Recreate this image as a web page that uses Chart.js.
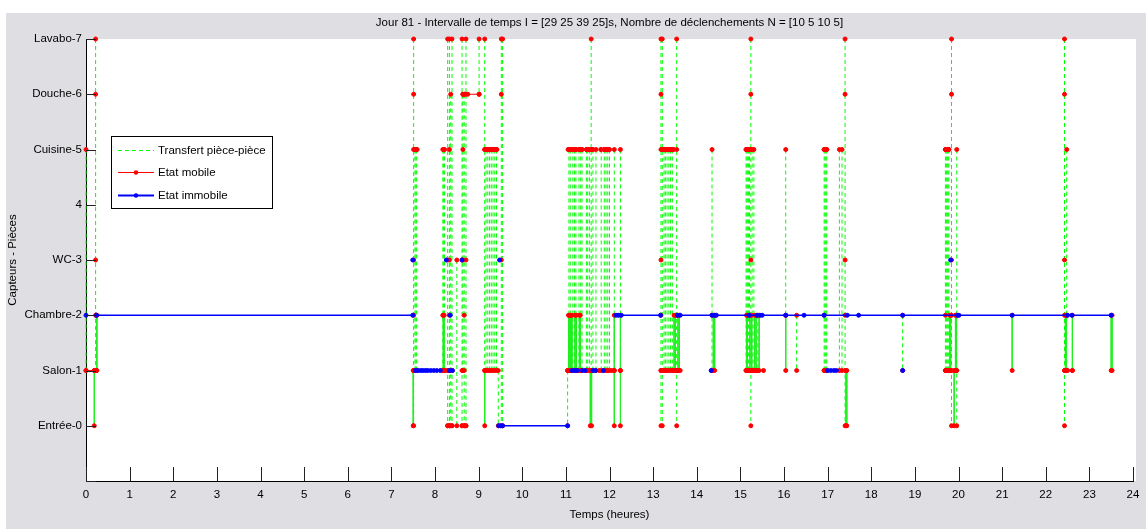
<!DOCTYPE html>
<html><head><meta charset="utf-8">
<script src="https://cdn.jsdelivr.net/npm/chart.js@4.4.1/dist/chart.umd.min.js"></script>
<style>html,body{margin:0;padding:0;background:#fff;}canvas{display:block;}</style>
</head><body>
<canvas id="c" width="1146" height="529"></canvas>
<script>
// ---------- texts ----------
const titleText = 'Jour 81 - Intervalle de temps I = [29 25 39 25]s, Nombre de déclenchements N = [10 5 10 5]';
const xTitle = 'Temps (heures)';
const yTitle = 'Capteurs - Pièces';
const seriesNames = ['Transfert pièce-pièce', 'Etat mobile', 'Etat immobile'];
// ---------- tick labels ----------
const roomLabels = ['Entrée-0','Salon-1','Chambre-2','WC-3','4','Cuisine-5','Douche-6','Lavabo-7'];
const yTickValues = [-1,0,1,2,3,4,5,6,7];
const hourTicks = [0,1,2,3,4,5,6,7,8,9,10,11,12,13,14,15,16,17,18,19,20,21,22,23,24];

// ---------- room-to-room transfers (dashed): time in hours, rooms visited on the vertical ----------
const dashT = [0.00,0.22,7.51,7.54,7.56,7.58,8.18,8.20,8.22,8.29,8.33,8.36,8.39,8.50,8.62,8.64,8.67,8.71,9.01,
  9.14,9.17,9.21,9.25,9.29,9.33,9.37,9.41,9.45,9.52,9.55,
  11.04,11.07,11.10,11.16,11.20,11.23,11.30,11.34,11.37,11.47,11.50,11.54,11.58,11.62,11.69,11.81,11.88,11.92,11.96,12.00,12.11,12.25,
  13.18,13.21,13.25,13.28,13.32,13.36,13.40,13.44,13.54,
  14.35,15.13,15.15,15.17,15.19,15.21,15.24,15.27,15.31,15.40,16.04,16.29,
  16.92,16.94,16.96,16.98,17.27,17.33,17.40,18.72,
  19.70,19.72,19.74,19.76,19.78,19.84,19.96,22.43,22.48];
const dashStops = [[1,5],[1,2,3,6,7],[0,1,2,3,5,6,7],[1,5],[1,5],[1,5],[1,2,5],[1,5],[1,5],[0,1,3,7],[0,1,2,3,5,7],[0,6],[0,1,7],[0,3],[0,1,3,7],[1,3,5,6],[0,1,2,6],[0,3,7],[6,7],
  [1,5,7],[1,5],[1,5],[1,5],[1,5],[1,5],[1,5],[1,5],[0,1],[0,3,6,7],[0,7],
  [0,1],[1,5],[1,5],[1,5],[1,5],[1,5],[1,5],[1,5],[1,5],[1,5],[1,5],[1,5],[1,5,7],[1,5],[1,5],[1,5],[1,5],[1,5],[1,5],[1,5],[1,5],[1,5],
  [0,1,2,3,5,6,7],[0,1,5,7],[1,5],[1,5],[1,5],[1,5],[1,5],[1,5],[0,1,2,5,7],
  [1,2,5],[1,5],[1,5],[1,5],[1,5],[1,5],[0,1,2,3,5,6,7],[1,5],[1,5],[1,2],[2,5],[1,2],
  [1,2,5],[1,5],[1,5],[1,5],[1,5],[1,5],[0,1,2,3,6,7],[1,2],
  [1,2,5],[1,5],[1,5],[1,5],[1,5],[0,1,2,3,6,7],[0,1,2,5],[0,1,2,3,6,7],[1,2,5]];

// ---------- short transfers drawn as plain lines ----------
const solidT = [0.19,0.24,0.25,7.50,8.19,8.21,9.14,
  11.06,11.08,11.10,11.12,11.14,11.21,11.24,11.31,11.33,11.56,11.59,12.11,12.25,
  13.48,13.51,13.57,13.60,14.38,14.41,15.14,15.16,15.22,15.26,15.33,15.36,15.43,16.04,17.42,17.44,
  19.80,19.82,19.90,19.93,19.95,21.23,22.45,22.47,22.61,23.50,23.52];
const solidStops = [[0,1],[1,2],[1,2],[0,1],[1,2],[1,2],[0,1],
  [1,2],[1,2],[1,2],[1,2],[1,2],[1,2],[1,2],[1,2],[1,2],[0,1],[0,1],[0,1,2],[0,1,2],
  [1,2],[1,2],[1,2],[1,2],[1,2],[1,2],[1,2],[1,2],[1,2],[1,2],[1,2],[1,2],[1,2],[1,2],[0,1],[0,1],
  [1,2],[1,2],[0,1],[1,2],[1,2],[1,2],[1,2],[1,2],[1,2],[1,2],[1,2]];

// ---------- mobile state runs (room, times) ----------
const mobileRoom = [1,5,1,0,6,0,5,5,5,5,1,5,1,5,1,5,1,5,1,1];
const mobileTimes = [[0.00,0.19,0.24],[7.53,7.56,7.59],[8.17,8.22,8.29,8.33,8.39],[8.29,8.33,8.39],[8.64,8.67,8.71,8.75,9.01],[8.62,8.67,8.71],
  [9.14,9.18,9.22,9.26,9.30,9.34,9.38,9.42],[11.05,11.10,11.16,11.23,11.30,11.37],[11.47,11.52,11.58,11.62],[11.80,11.88,11.92,11.97],
  [11.04,11.12,11.30,11.48,11.56,11.76,11.95,12.05],[13.20,13.26,13.32,13.38,13.44,13.47],[13.18,13.30,13.45,13.55,13.62],
  [15.13,15.17,15.22],[15.13,15.25,15.40,15.53],[16.92,16.95,16.98],[16.92,16.98],[19.70,19.74,19.78],[19.70,19.80,19.96],[22.43,22.50,22.61]];

// ---------- immobile state runs (room, times) ----------
const immobileRoom = [2,2,3,1,3,3,2,1,3,0,1,1,1,1,2,2,1,1,1,3];
const immobileTimes = [[0.00],[0.24,7.49],[7.49],[7.55,7.61,7.67,7.72,7.78,7.83,7.90,7.97,8.04,8.12],[8.26],[8.62],[8.35],[8.33,8.40],[9.48],
  [9.46,9.50,9.55,11.04],[11.14,11.20,11.26],[11.38,11.44],[11.62,11.68],[11.86],[12.15,12.20,12.27,13.17],
  [13.56,13.62,14.35,14.42,14.45,15.20,15.38,15.45,15.50,16.04,16.46,16.92,17.45,17.71,18.72,19.98,20.01,21.23,22.50,22.60,23.50],
  [14.33],[17.00,17.07,17.14,17.20],[18.72],[19.82]];

// ---------- fonts ----------
function fontAvailable(name){
  const c = document.createElement('canvas').getContext('2d');
  const s = 'Chambre-2 Capteurs Pièces 0123456789';
  let diff = false;
  ['monospace','serif'].forEach(fb => {
    c.font = '32px ' + fb; const a = c.measureText(s).width;
    c.font = '32px "' + name + '", ' + fb; const b = c.measureText(s).width;
    if (Math.abs(a - b) > 0.5) diff = true;
  });
  return diff;
}
const NARROW = fontAvailable('Liberation Sans Narrow');
const FAMILY = NARROW ? '"Liberation Sans Narrow", "Liberation Sans", Arial, sans-serif' : '"Liberation Sans", Arial, sans-serif';
const FS = NARROW ? 14 : 11.5;
const LH = FS * 1.2;
Chart.defaults.font.family = FAMILY;
Chart.defaults.font.size = FS;
Chart.defaults.color = '#000';

// ---------- build datasets ----------
function verticals(ts, stops){
  const d = [];
  ts.forEach((t, i) => {
    const s = stops[i];
    d.push({x: t, y: Math.max(...s)}, {x: t, y: Math.min(...s)}, {x: t, y: null});
  });
  return d;
}
function runs(rooms, times){
  const d = [];
  rooms.forEach((r, i) => {
    times[i].forEach(t => d.push({x: t, y: r}));
    d.push({x: times[i][times[i].length - 1], y: null});
  });
  return d;
}
function stopPoints(ts, stops){
  const d = [];
  ts.forEach((t, i) => stops[i].forEach(r => d.push({x: t, y: r}, {x: t, y: null})));
  return d;
}
const dashData = verticals(dashT, dashStops);
const solidData = verticals(solidT, solidStops);
const redData = runs(mobileRoom, mobileTimes).concat(stopPoints(dashT, dashStops), stopPoints(solidT, solidStops));
const blueData = runs(immobileRoom, immobileTimes);

// ---------- plugins ----------
const bgPlugin = {
  id: 'bg',
  beforeDraw(chart){
    const {ctx, chartArea: a, width, height} = chart;
    ctx.save();
    ctx.fillStyle = '#ffffff'; ctx.fillRect(0, 0, width, height);
    ctx.fillStyle = '#dfdfe3'; ctx.fillRect(6, 13, width - 6, height - 13);
    ctx.fillStyle = '#ffffff'; ctx.fillRect(a.left, a.top, a.right - a.left + 3, a.bottom - a.top);
    ctx.restore();
  }
};
const tickPlugin = {
  id: 'inTicks',
  afterDatasetsDraw(chart){
    const {ctx, chartArea: a, scales: {x, y}} = chart;
    ctx.save();
    ctx.strokeStyle = '#222'; ctx.lineWidth = 1; ctx.beginPath();
    x.ticks.forEach(t => { const p = Math.round(x.getPixelForValue(t.value)) + 0.5; ctx.moveTo(p, a.bottom); ctx.lineTo(p, a.bottom - 14); });
    y.ticks.forEach(t => { const p = Math.round(y.getPixelForValue(t.value)) + 0.5; ctx.moveTo(a.left, p); ctx.lineTo(a.left + 10, p); });
    ctx.stroke();
    ctx.restore();
  }
};
const legendPlugin = {
  id: 'boxLegend',
  afterDraw(chart){
    const {ctx, chartArea: a} = chart;
    const bx = a.left + 25, by = a.top + 97, bw = 161, bh = 72;
    ctx.save();
    ctx.fillStyle = '#fff'; ctx.fillRect(bx, by, bw, bh);
    ctx.strokeStyle = '#000'; ctx.lineWidth = 1; ctx.strokeRect(bx + 0.5, by + 0.5, bw, bh);
    const rows = [14, 36, 59];
    const sets = [chart.data.datasets[0], chart.data.datasets[2], chart.data.datasets[3]];
    ctx.font = FS + 'px ' + FAMILY;
    ctx.textBaseline = 'middle'; ctx.textAlign = 'left'; ctx.fillStyle = '#000';
    sets.forEach((ds, i) => {
      const yy = by + rows[i] + 0.5;
      ctx.save();
      ctx.strokeStyle = ds.borderColor;
      ctx.lineWidth = i === 2 ? 2 : 1;
      if (ds.borderDash) ctx.setLineDash(ds.borderDash);
      ctx.beginPath(); ctx.moveTo(bx + 7, yy); ctx.lineTo(bx + 43, yy); ctx.stroke();
      ctx.setLineDash([]);
      if (ds.pointRadius) {
        ctx.fillStyle = ds.borderColor;
        ctx.beginPath(); ctx.arc(bx + 25, yy, 2.2, 0, Math.PI * 2); ctx.fill();
      }
      ctx.restore();
      ctx.fillText(ds.label, bx + 47, yy);
    });
    ctx.restore();
  }
};

const titlePadTop = 9.5 - LH / 2;
const titlePadBottom = 26 - LH - titlePadTop;

new Chart(document.getElementById('c').getContext('2d'), {
  type: 'scatter',
  data: { datasets: [
    { label: seriesNames[0], data: dashData, showLine: true, spanGaps: false, borderColor: '#00ff00', borderWidth: 1, borderDash: [4,3], pointRadius: 0, order: 4, clip: false },
    { label: 'transfer-solid', data: solidData, showLine: true, spanGaps: false, borderColor: '#22ee22', borderWidth: 1, pointRadius: 0, order: 3, clip: false },
    { label: seriesNames[1], data: redData, showLine: true, spanGaps: false, borderColor: '#ff0000', backgroundColor: '#ff0000', borderWidth: 1, pointRadius: 2, pointBorderWidth: 1, pointStyle: 'circle', order: 2, clip: false },
    { label: seriesNames[2], data: blueData, showLine: true, spanGaps: false, borderColor: '#0000ff', backgroundColor: '#0000ff', borderWidth: 1.5, pointRadius: 2, pointBorderWidth: 1, pointStyle: 'circle', order: 1, clip: false }
  ]},
  options: {
    responsive: false, animation: false, events: [], devicePixelRatio: 1,
    layout: { padding: { left: 0, right: 12, top: 13, bottom: 0 } },
    plugins: {
      legend: { display: false }, tooltip: { enabled: false },
      title: { display: true, fullSize: false, text: titleText, color: '#000', font: { size: FS, weight: 'normal', family: FAMILY }, padding: { top: titlePadTop, bottom: titlePadBottom } }
    },
    scales: {
      x: {
        type: 'linear', position: 'bottom', min: 0, max: 24,
        afterFit(s){ s.height = 48; },
        afterBuildTicks(s){ s.ticks = hourTicks.map(v => ({value: v})); },
        grid: { display: false, drawTicks: false },
        border: { display: true, color: '#000', width: 1 },
        ticks: { autoSkip: false, maxRotation: 0, padding: 494.5 - 481 - LH / 2, color: '#000', callback: v => String(v) },
        title: { display: true, text: xTitle, color: '#000', padding: { top: 0, bottom: 529 - 515 - LH / 2 } }
      },
      y: {
        type: 'linear', position: 'left', min: -1, max: 7,
        afterFit(s){ s.width = 86; },
        afterBuildTicks(s){ s.ticks = yTickValues.map(v => ({value: v})); },
        grid: { display: false, drawTicks: false },
        border: { display: true, color: '#000', width: 1 },
        ticks: { padding: 4, color: '#000', callback: v => (v >= 0 && v < roomLabels.length) ? roomLabels[v] : '' },
        title: { display: true, text: yTitle, color: '#000', padding: { top: 12.5 - LH / 2, bottom: 0 } }
      }
    }
  },
  plugins: [bgPlugin, tickPlugin, legendPlugin]
});
</script>
</body></html>
